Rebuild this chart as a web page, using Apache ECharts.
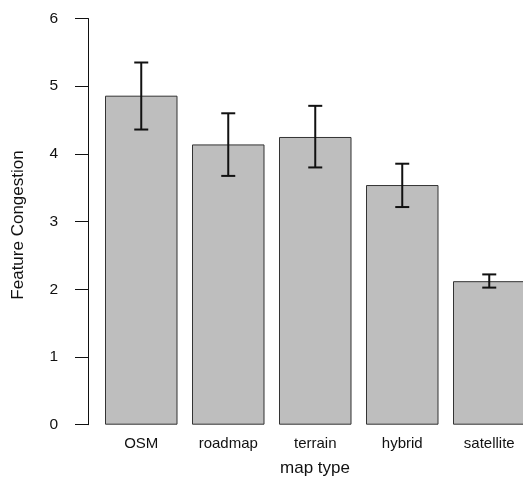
<!DOCTYPE html>
<html>
<head>
<meta charset="utf-8">
<script src="https://cdn.jsdelivr.net/npm/echarts@6/dist/echarts.min.js"></script>
<style>html,body{margin:0;padding:0;background:#fff;overflow:hidden;}#c{width:545px;height:485px;}</style>
</head>
<body>
<div id="c"></div>
<script>
var categories = ['OSM', 'roadmap', 'terrain', 'hybrid', 'satellite'];
var means = [4.86, 4.14, 4.25, 3.54, 2.12];
var lower = [4.36, 3.675, 3.80, 3.215, 2.025];
var upper = [5.35, 4.60, 4.71, 3.855, 2.22];
var yTicks = [0, 1, 2, 3, 4, 5, 6];

var errData = categories.map(function (c, i) { return [i, lower[i], upper[i]]; });

var chart = echarts.init(document.getElementById('c'), null, {renderer: 'canvas'});
var font = 'Liberation Sans, Arial, Helvetica, sans-serif';
chart.setOption({
  animation: false,
  backgroundColor: '#ffffff',
  grid: {left: 97.75, width: 435, top: 18.5, height: 406.2, containLabel: false},
  xAxis: {
    type: 'category',
    data: categories,
    axisLine: {show: false},
    axisTick: {show: false},
    axisLabel: {fontFamily: font, fontSize: 15, color: '#111', margin: 12}
  },
  yAxis: {
    type: 'value',
    min: yTicks[0],
    max: yTicks[yTicks.length - 1],
    interval: 1,
    offset: 9.75,
    axisLine: {show: true, lineStyle: {color: '#111', width: 1}},
    axisTick: {show: true, length: 13, lineStyle: {color: '#111', width: 1}},
    axisLabel: {fontFamily: font, fontSize: 15.5, color: '#111', margin: 30},
    splitLine: {show: false}
  },
  graphic: [
    {type: 'text', x: 18, y: 225, rotation: Math.PI / 2,
     style: {text: 'Feature Congestion', fontFamily: font, fontSize: 17, fill: '#111',
             textAlign: 'center', textVerticalAlign: 'middle'}},
    {type: 'text', x: 315, y: 468,
     style: {text: 'map type', fontFamily: font, fontSize: 17, fill: '#111',
             textAlign: 'center', textVerticalAlign: 'middle'}}
  ],
  series: [
    {
      type: 'bar',
      data: means,
      barWidth: 72.5,
      itemStyle: {color: '#bebebe', borderColor: '#333', borderWidth: 1}
    },
    {
      type: 'custom',
      data: errData,
      z: 10,
      renderItem: function (params, api) {
        var lo = api.coord([api.value(0), api.value(1)]);
        var hi = api.coord([api.value(0), api.value(2)]);
        var hw = 7;
        var st = {stroke: '#111', lineWidth: 2};
        return {
          type: 'group',
          children: [
            {type: 'line', shape: {x1: lo[0], y1: lo[1], x2: hi[0], y2: hi[1]}, style: st},
            {type: 'line', shape: {x1: lo[0] - hw, y1: lo[1], x2: lo[0] + hw, y2: lo[1]}, style: st},
            {type: 'line', shape: {x1: hi[0] - hw, y1: hi[1], x2: hi[0] + hw, y2: hi[1]}, style: st}
          ]
        };
      }
    }
  ]
});
</script>
</body>
</html>
